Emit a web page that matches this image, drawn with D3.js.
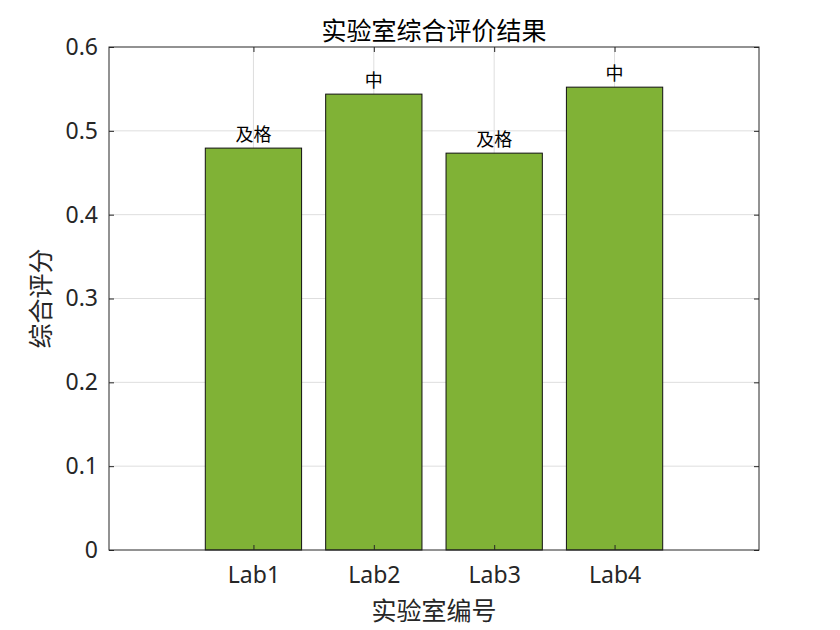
<!DOCTYPE html>
<html>
<head>
<meta charset="utf-8">
<script src="https://cdn.jsdelivr.net/npm/d3@7"></script>
<style>
  body { margin: 0; background: #fff; }
  text { font-family: "Noto Sans", "Noto Sans CJK SC", sans-serif; fill: #262626; }
</style>
</head>
<body>
<svg width="840" height="630"></svg>
<script>
const labs = ['Lab1', 'Lab2', 'Lab3', 'Lab4'];
const scores = [0.4794, 0.5438, 0.4734, 0.5521];
const grades = ['及格', '中', '及格', '中'];
const yTicks = [0, 0.1, 0.2, 0.3, 0.4, 0.5, 0.6];

const margin = { top: 47, right: 81, bottom: 80, left: 109 };
const width = 840 - margin.left - margin.right;
const height = 630 - margin.top - margin.bottom;

const svg = d3.select('svg');
const g = svg.append('g')
  .attr('transform', `translate(${margin.left}, ${margin.top})`);

// numeric positions 1..4, like matlab bar()
const x = d3.scaleLinear().domain([-0.2, 5.2]).range([0, width]);
const y = d3.scaleLinear().domain([0, 0.6]).range([height, 0]);
const barW = (x(1) - x(0)) * 0.8;

// grid
g.append('g').selectAll('line')
  .data(yTicks.slice(1, -1))
  .enter().append('line')
  .attr('x1', 0).attr('x2', width)
  .attr('y1', d => y(d)).attr('y2', d => y(d))
  .attr('stroke', '#dedede');
g.append('g').selectAll('line')
  .data(labs)
  .enter().append('line')
  .attr('x1', (d, i) => x(i + 1)).attr('x2', (d, i) => x(i + 1))
  .attr('y1', 0).attr('y2', height)
  .attr('stroke', '#dedede');

// bars
g.append('g').selectAll('rect')
  .data(scores)
  .enter().append('rect')
  .attr('x', (d, i) => x(i + 1) - barW / 2)
  .attr('y', d => y(d))
  .attr('width', barW)
  .attr('height', d => height - y(d))
  .attr('fill', '#80b236')
  .attr('stroke', '#111')
  .attr('stroke-width', 1);

// grade labels
g.append('g').selectAll('text')
  .data(scores)
  .enter().append('text')
  .attr('x', (d, i) => x(i + 1))
  .attr('y', d => y(d) - 7)
  .attr('text-anchor', 'middle')
  .style('font-family', '"Noto Sans CJK SC", sans-serif')
  .style('font-size', '18px')
  .style('fill', '#000')
  .text((d, i) => grades[i]);

// axes
const axisColor = '#262626';
const yAxis = g.append('g')
  .call(d3.axisLeft(y).tickValues(yTicks).tickSize(-5).tickPadding(11).tickFormat(d => d === 0 ? '0' : d3.format('.1f')(d)));
const yAxisR = g.append('g').attr('transform', `translate(${width},0)`)
  .call(d3.axisRight(y).tickValues(yTicks).tickSize(-5).tickFormat(''));
const xAxis = g.append('g').attr('transform', `translate(0,${height})`)
  .call(d3.axisBottom(x).tickValues([1, 2, 3, 4]).tickSize(-5).tickPadding(17).tickFormat(d => labs[d - 1]));
const xAxisT = g.append('g')
  .call(d3.axisTop(x).tickValues([1, 2, 3, 4]).tickSize(-5).tickFormat(''));

[yAxis, yAxisR, xAxis, xAxisT].forEach(a => {
  a.select('.domain').remove();
  a.selectAll('.tick line').attr('stroke', axisColor);
  a.selectAll('.tick text').style('font-size', '23px').style('fill', axisColor);
});

g.append('rect')
  .attr('width', width).attr('height', height)
  .attr('fill', 'none')
  .attr('stroke', axisColor)
  .attr('stroke-width', 1);

// titles
svg.append('text')
  .attr('x', margin.left + width / 2).attr('y', 40)
  .attr('text-anchor', 'middle')
  .style('font-family', '"Noto Sans CJK SC", sans-serif')
  .style('font-size', '25px')
  .style('fill', '#000')
  .text('实验室综合评价结果');

svg.append('text')
  .attr('x', margin.left + width / 2).attr('y', 620)
  .attr('text-anchor', 'middle')
  .style('font-family', '"Noto Sans CJK SC", sans-serif')
  .style('font-size', '25px')
  .text('实验室编号');

svg.append('text')
  .attr('transform', `translate(50, ${margin.top + height / 2}) rotate(-90)`)
  .attr('text-anchor', 'middle')
  .style('font-family', '"Noto Sans CJK SC", sans-serif')
  .style('font-size', '25px')
  .text('综合评分');
</script>
</body>
</html>
